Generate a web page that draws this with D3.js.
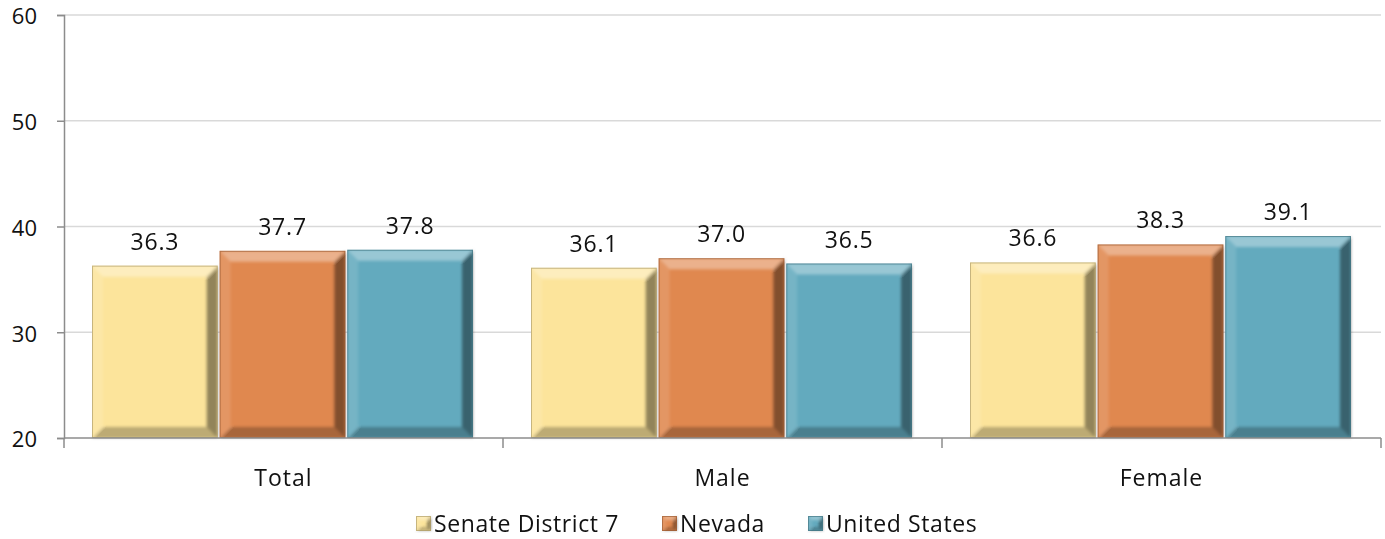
<!DOCTYPE html>
<html><head><meta charset="utf-8">
<script src="https://cdn.jsdelivr.net/npm/d3@7"></script>
<style>body{margin:0;background:#fff}svg{display:block}text{font-family:"Open Sans","Noto Sans",sans-serif;fill:#111}</style>
</head><body>
<svg id="c" width="1385" height="539"></svg>
<script>
const categories = ["Total", "Male", "Female"];
const seriesNames = ["Senate District 7", "Nevada", "United States"];
const senateDistrict7 = [36.3, 36.1, 36.6];
const nevada = [37.7, 37.0, 38.3];
const unitedStates = [37.8, 36.5, 39.1];
const yTicks = [20, 30, 40, 50, 60];
const colors = ["#FCE49B", "#E0884F", "#63AABE"];
const seriesValues = [senateDistrict7, nevada, unitedStates];

const svg = d3.select("#c");
const L = 64, R = 1381, T = 15, B = 438;
const y = d3.scaleLinear().domain([20, 60]).range([B, T]);
const x0 = d3.scaleBand().domain(categories).range([L, R]).padding(0);
const x1 = d3.scaleBand().domain(seriesNames).range([28, x0.bandwidth() - 30]).paddingInner(0.015);

const defs = svg.append("defs");
const f = defs.append("filter").attr("id", "blur").attr("x", "-10%").attr("y", "-10%").attr("width", "120%").attr("height", "120%");
f.append("feGaussianBlur").attr("stdDeviation", 1.6);

// gridlines
svg.append("g").selectAll("line").data(yTicks.filter(d => d > 20)).join("line")
  .attr("x1", L).attr("x2", R).attr("y1", d => y(d)).attr("y2", d => y(d))
  .attr("stroke", "#d9d9d9").attr("stroke-width", 1.5);

// y axis
const ya = svg.append("g").attr("transform", `translate(${L},0)`)
  .call(d3.axisLeft(y).tickValues(yTicks).tickSize(7).tickPadding(20).tickFormat(d3.format("d")));
ya.select(".domain").attr("stroke", "#8c8c8c").attr("stroke-width", 1.5);
ya.selectAll(".tick line").attr("stroke", "#8c8c8c").attr("stroke-width", 1.5);
ya.selectAll(".tick text").attr("font-size", 22).attr("dy", "0.4em").attr("fill", "#111").style("font-family", '"Open Sans",sans-serif');

function bevel(g, bx, by, w, h, color, b) {
  g.append("rect").attr("x", bx).attr("y", by).attr("width", w).attr("height", h).attr("fill", color);
  const bg = g.append("g").attr("filter", "url(#blur)");
  const poly = (pts, fill, op) => bg.append("polygon").attr("points", pts.map(p => p.join(",")).join(" ")).attr("fill", fill).attr("opacity", op);
  poly([[bx, by], [bx + w, by], [bx + w - b, by + b], [bx + b, by + b]], "#fff", 0.35);
  poly([[bx, by], [bx + b, by + b], [bx + b, by + h - b], [bx, by + h]], "#fff", 0.12);
  poly([[bx + w, by], [bx + w, by + h], [bx + w - b, by + h - b], [bx + w - b, by + b]], "#000", 0.42);
  poly([[bx, by + h], [bx + w, by + h], [bx + w - b, by + h - b], [bx + b, by + h - b]], "#000", 0.25);
  g.append("rect").attr("x", bx + 0.5).attr("y", by + 0.5).attr("width", w - 1).attr("height", h - 1)
    .attr("fill", "none").attr("stroke", d3.color(color).darker(1.2)).attr("stroke-opacity", 0.6).attr("stroke-width", 1);
}

// bars
const barsG = svg.append("g");
categories.forEach((c, ci) => {
  seriesNames.forEach((s, si) => {
    const v = seriesValues[si][ci];
    const bx = x0(c) + x1(s), bw = x1.bandwidth(), by = y(v), bh = y(20) - y(v);
    bevel(barsG.append("g"), bx, by, bw, bh, colors[si], 11);
    svg.append("text").attr("x", bx + bw / 2).attr("y", by - 16).attr("text-anchor", "middle")
      .attr("font-size", 23).attr("letter-spacing", 0.8).text(d3.format(".1f")(v));
  });
});

// x axis
svg.append("line").attr("x1", L).attr("x2", R).attr("y1", B).attr("y2", B).attr("stroke", "#8c8c8c").attr("stroke-width", 1.5);
const bounds = categories.map(c => x0(c)).concat([R]);
svg.append("g").selectAll("line").data(bounds).join("line")
  .attr("x1", d => d).attr("x2", d => d).attr("y1", B).attr("y2", B + 10).attr("stroke", "#8c8c8c").attr("stroke-width", 1.5);
svg.append("g").selectAll("text").data(categories).join("text")
  .attr("x", d => x0(d) + x0.bandwidth() / 2).attr("y", 486).attr("text-anchor", "middle")
  .attr("font-size", 23).attr("letter-spacing", 1).text(d => d);

// legend
const legX = [416, 662, 808];
const lg = svg.append("g");
seriesNames.forEach((s, i) => {
  bevel(lg.append("g"), legX[i], 516, 15, 15, colors[i], 4);
  lg.append("text").attr("x", legX[i] + 18).attr("y", 532).attr("font-size", 23).attr("letter-spacing", 0.6).text(s);
});
</script>
</body></html>
